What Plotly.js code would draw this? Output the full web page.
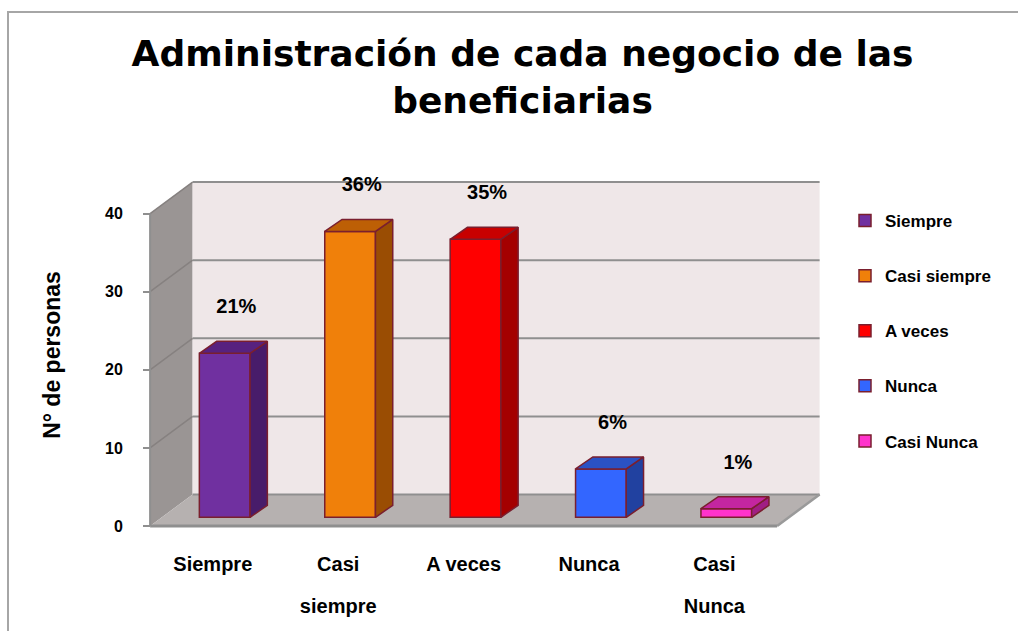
<!DOCTYPE html>
<html>
<head>
<meta charset="utf-8">
<script src="https://cdn.plot.ly/plotly-3.0.1.min.js"></script>
<style>html,body{margin:0;padding:0;background:#fff;}#chart{width:1018px;height:631px;}</style>
</head>
<body>
<div id="chart"></div>
<script>
// ---- data ----
const categories = ["Siempre", "Casi siempre", "A veces", "Nunca", "Casi Nunca"];
const categoryTickLine1 = ["Siempre", "Casi", "A veces", "Nunca", "Casi"];
const categoryTickLine2 = ["", "siempre", "", "", "Nunca"];
const personas = [21, 36.6, 35.6, 6.2, 1.1];
const percentLabels = ["21%", "36%", "35%", "6%", "1%"];
const yTickValues = [0, 10, 20, 30, 40];

// ---- styles ----
const frontColors = ["#7030a0", "#f0800a", "#ff0000", "#3366ff", "#ff33cc"];
const topColors   = ["#57217f", "#bd5f05", "#c80000", "#2a52c4", "#c426a0"];
const sideColors  = ["#481c6a", "#9a4d03", "#a40000", "#2141a0", "#a01e84"];
const outline = "#7a1f2e";
const gridGray = "#8f8f8f";
const labelFont = "Liberation Sans, Arial, sans-serif";

// ---- geometry (pixel scale of the axes) ----
const W = 1018, H = 631;
const PX_PER_X = 125.4, PX_PER_Y = 7.81;
const X0_PX = 212.8, Y0_PX = 526;
const PLOT_TOP_PX = 80, PLOT_BOTTOM_PX = 630;
const xRange = [-X0_PX / PX_PER_X, (W - X0_PX) / PX_PER_X];
const yRange = [(Y0_PX - PLOT_BOTTOM_PX) / PX_PER_Y, (Y0_PX - PLOT_TOP_PX) / PX_PER_Y];
const DEPTH_X = 42.5 / PX_PER_X, DEPTH_Y = 31.5 / PX_PER_Y;      // wall depth
const BAR_SHIFT_X = 11.9 / PX_PER_X, BAR_BASE = 8.7 / PX_PER_Y;  // bar front plane
const BAR_W = 50.7 / PX_PER_X;
const BAR_DX = 17.3 / PX_PER_X, BAR_DY = 12 / PX_PER_Y;          // bar depth
const LBL_DX = 11.6 / PX_PER_X, LBL_DY = 45 / PX_PER_Y;
const X_LEFT = -0.5, X_RIGHT = categories.length - 0.5, Y_TOP = yTickValues[yTickValues.length - 1];

function poly(pts) { return "M" + pts.map(p => p[0] + "," + p[1]).join("L") + "Z"; }
function seg(a, b) { return "M" + a[0] + "," + a[1] + "L" + b[0] + "," + b[1]; }

const shapes = [];
// side wall
shapes.push({type: "path", xref: "x", yref: "y", layer: "below",
  path: poly([[X_LEFT, 0], [X_LEFT + DEPTH_X, DEPTH_Y], [X_LEFT + DEPTH_X, Y_TOP + DEPTH_Y], [X_LEFT, Y_TOP]]),
  fillcolor: "#9a9594", line: {width: 0}});
// back wall
shapes.push({type: "path", xref: "x", yref: "y", layer: "below",
  path: poly([[X_LEFT + DEPTH_X, DEPTH_Y], [X_RIGHT + DEPTH_X, DEPTH_Y], [X_RIGHT + DEPTH_X, Y_TOP + DEPTH_Y], [X_LEFT + DEPTH_X, Y_TOP + DEPTH_Y]]),
  fillcolor: "#efe7e8", line: {width: 0}});
// floor
shapes.push({type: "path", xref: "x", yref: "y", layer: "below",
  path: poly([[X_LEFT, 0], [X_RIGHT, 0], [X_RIGHT + DEPTH_X, DEPTH_Y], [X_LEFT + DEPTH_X, DEPTH_Y]]),
  fillcolor: "#b6b1b0", line: {width: 0}});
// gridlines on back and side walls
yTickValues.forEach(k => {
  shapes.push({type: "path", xref: "x", yref: "y", layer: "below",
    path: seg([X_LEFT + DEPTH_X, k + DEPTH_Y], [X_RIGHT + DEPTH_X, k + DEPTH_Y]),
    line: {color: gridGray, width: 2}});
  if (k > 0) shapes.push({type: "path", xref: "x", yref: "y", layer: "below",
    path: seg([X_LEFT, k], [X_LEFT + DEPTH_X, k + DEPTH_Y]),
    line: {color: "#868180", width: 1.5}});
});
// front edges
shapes.push({type: "path", xref: "x", yref: "y", layer: "below",
  path: seg([X_LEFT, 0], [X_LEFT, Y_TOP]), line: {color: gridGray, width: 2}});
shapes.push({type: "path", xref: "x", yref: "y", layer: "below",
  path: seg([X_LEFT, 0], [X_RIGHT, 0]), line: {color: gridGray, width: 3}});
shapes.push({type: "path", xref: "x", yref: "y", layer: "below",
  path: seg([X_RIGHT, 0], [X_RIGHT + DEPTH_X, DEPTH_Y]), line: {color: "#9a9a9a", width: 2.5}});
// outer chart border
shapes.push({type: "path", xref: "paper", yref: "paper", layer: "above",
  path: "M" + (8 / W) + ",0L" + (8 / W) + "," + (1 - 12 / H) + "L1," + (1 - 12 / H),
  line: {color: "#a6a6a6", width: 2}});

const traces = [];
// front faces (bars) — one trace per category for the legend
categories.forEach((c, i) => {
  traces.push({type: "bar", name: c, x: [i + BAR_SHIFT_X], y: [personas[i]], base: [BAR_BASE],
    width: BAR_W, marker: {color: frontColors[i], line: {color: outline, width: 1.5}},
    legendgroup: c, hoverinfo: "skip"});
});
// top and side faces
categories.forEach((c, i) => {
  const xl = i + BAR_SHIFT_X - BAR_W / 2, xr = i + BAR_SHIFT_X + BAR_W / 2;
  const yb = BAR_BASE, yt = BAR_BASE + personas[i];
  traces.push({type: "scatter", mode: "lines", fill: "toself", fillcolor: sideColors[i],
    x: [xr, xr + BAR_DX, xr + BAR_DX, xr, xr], y: [yb, yb + BAR_DY, yt + BAR_DY, yt, yb],
    line: {color: outline, width: 1.5}, showlegend: false, hoverinfo: "skip", legendgroup: c});
  traces.push({type: "scatter", mode: "lines", fill: "toself", fillcolor: topColors[i],
    x: [xl, xr, xr + BAR_DX, xl + BAR_DX, xl], y: [yt, yt, yt + BAR_DY, yt + BAR_DY, yt],
    line: {color: outline, width: 1.5}, showlegend: false, hoverinfo: "skip", legendgroup: c});
});
// percentage labels
traces.push({type: "scatter", mode: "text", showlegend: false, hoverinfo: "skip",
  x: categories.map((c, i) => i + BAR_SHIFT_X + LBL_DX),
  y: personas.map(v => v + BAR_BASE + LBL_DY),
  text: percentLabels,
  textfont: {family: labelFont, size: 20, color: "#000", weight: "bold"},
  cliponaxis: false});
// invisible trace on the second x axis so its tick labels (second lines) are drawn
traces.push({type: "scatter", mode: "markers", x: [0], y: [0], xaxis: "x2", yaxis: "y",
  marker: {opacity: 0}, showlegend: false, hoverinfo: "skip"});

const xCommon = {range: xRange, domain: [0, 1], anchor: "free", position: 1 - Y0_PX / H,
  tickmode: "array", tickvals: categories.map((c, i) => i),
  ticks: "", showgrid: false, zeroline: false, showline: false, fixedrange: true,
  tickfont: {family: labelFont, size: 20, color: "#000", weight: "bold"}};

const layout = {
  width: W, height: H, autosize: false,
  margin: {l: 0, r: 0, t: 0, b: 0, pad: 0},
  paper_bgcolor: "#ffffff", plot_bgcolor: "rgba(0,0,0,0)",
  hovermode: false, barmode: "overlay",
  title: {text: "Administración de cada negocio de las<br>beneficiarias",
    font: {family: "DejaVu Sans, sans-serif", size: 36, color: "#000", weight: "bold"},
    x: 522.5 / W, xanchor: "center", xref: "paper", y: 1 - 66 / H, yanchor: "top", yref: "paper"},
  xaxis: Object.assign({}, xCommon, {ticktext: categoryTickLine1, ticklabelstandoff: 24}),
  xaxis2: Object.assign({}, xCommon, {ticktext: categoryTickLine2, ticklabelstandoff: 66, overlaying: "x"}),
  yaxis: {range: yRange, domain: [1 - PLOT_BOTTOM_PX / H, 1 - PLOT_TOP_PX / H],
    anchor: "free", position: (X0_PX + X_LEFT * PX_PER_X) / W,
    tickmode: "array", tickvals: yTickValues, ticks: "outside", ticklen: 7, tickwidth: 2, tickcolor: gridGray,
    ticklabelstandoff: 17,
    showgrid: false, zeroline: false, showline: false, fixedrange: true,
    tickfont: {family: labelFont, size: 16, color: "#000", weight: "bold"},
    title: {text: "N° de personas", standoff: 37,
      font: {family: labelFont, size: 23, color: "#000", weight: "bold"}}},
  legend: {x: 845 / W, xanchor: "left", y: 1 - 203 / H, yanchor: "top",
    bgcolor: "rgba(0,0,0,0)", tracegroupgap: 30, traceorder: "grouped",
    font: {family: labelFont, size: 17, color: "#000", weight: "bold"}},
  shapes: shapes,
  showlegend: true
};

Plotly.newPlot("chart", traces, layout, {staticPlot: true, displayModeBar: false});
</script>
</body>
</html>
